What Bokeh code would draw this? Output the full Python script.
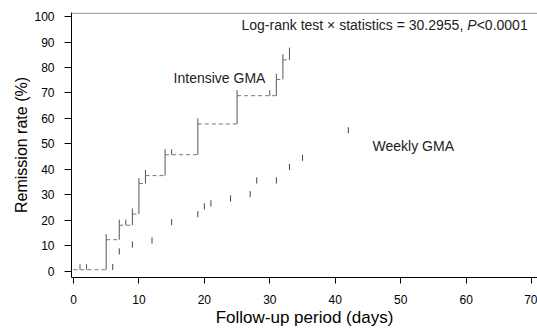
import numpy as np
from bokeh.plotting import figure
from bokeh.models import Range1d, FixedTicker, Span, Label
from bokeh.embed import file_html
from bokeh.resources import INLINE

# ---- data ----
intensive_days = [0, 5, 7, 9, 10, 11, 14, 19, 25, 31, 32, 33]
intensive_rate = [0.5, 12.3, 18.0, 22.4, 34.4, 37.5, 45.7, 57.8, 68.9, 75.3, 83.0, 85.6]
intensive_censor_days = [1, 2, 5, 7, 8, 9, 10, 11, 14, 15, 19, 25, 30, 31, 32, 33]

weekly_days = [6, 7, 9, 12, 15, 19, 20, 21, 24, 27, 28, 31, 33, 35, 42]
weekly_rate = [1.6, 7.7, 10.4, 12.0, 19.2, 22.3, 25.4, 26.6, 28.5, 30.2, 35.6, 35.6, 40.9, 44.5, 55.3]

x_ticks = [0, 10, 20, 30, 40, 50, 60, 70]
y_ticks = [0, 10, 20, 30, 40, 50, 60, 70, 80, 90, 100]

FONT = "Liberation Sans"

p = figure(width=537, height=329, output_backend="svg", toolbar_location=None,
           x_range=Range1d(-0.3, 70.9), y_range=Range1d(-2.55, 101.6),
           min_border_left=71, min_border_right=0, min_border_top=12, min_border_bottom=52)
p.outline_line_color = None
p.grid.visible = False
p.background_fill_color = "white"

# axes
for ax in (p.xaxis, p.yaxis):
    ax.axis_line_color = "black"
    ax.major_tick_line_color = "black"
    ax.minor_tick_line_color = None
    ax.major_tick_in = 0
    ax.major_label_text_font = FONT
    ax.major_label_text_font_size = "12px"
    ax.major_label_text_color = "black"
    ax.axis_label_text_font = FONT
    ax.axis_label_text_font_style = "normal"
    ax.axis_label_text_color = "black"

p.xaxis.ticker = FixedTicker(ticks=x_ticks)
p.yaxis.ticker = FixedTicker(ticks=y_ticks)
p.xaxis.major_tick_out = 6
p.yaxis.major_tick_out = 7
p.xaxis.major_label_standoff = 11
p.yaxis.major_label_standoff = 10
p.xaxis.axis_label = "Follow-up period (days)"
p.yaxis.axis_label = "Remission rate (%)"
p.xaxis.axis_label_text_font_size = "17px"
p.yaxis.axis_label_text_font_size = "16px"
p.xaxis.axis_label_standoff = 1
p.yaxis.axis_label_standoff = 1

# top border line
p.add_layout(Span(location=101.3, dimension="width", line_color="#888888", line_width=1))

# ---- Intensive GMA step curve ----
d = np.array(intensive_days, dtype=float)
r = np.array(intensive_rate, dtype=float)
p.segment(x0=d[:-1], y0=r[:-1], x1=d[1:], y1=r[:-1],
          line_color="#777777", line_width=1, line_dash="4 3")
p.segment(x0=d[1:], y0=r[:-1], x1=d[1:], y1=r[1:],
          line_color="#555555", line_width=1)

c = np.array(intensive_censor_days, dtype=float)
lvl = r[np.searchsorted(d, c, side="right") - 1]
p.segment(x0=c, y0=lvl, x1=c, y1=lvl + 2.2, line_color="#555555", line_width=1)

# ---- Weekly GMA marks ----
wd = np.array(weekly_days, dtype=float)
wr = np.array(weekly_rate, dtype=float)
p.segment(x0=wd, y0=wr - 1.2, x1=wd, y1=wr + 1.2, line_color="#444444", line_width=1)

# ---- annotations ----
p.add_layout(Label(x=15.3, y=75.8, text="Intensive GMA", text_font=FONT,
                   text_font_size="14px", text_color="#222222", text_baseline="alphabetic"))
p.add_layout(Label(x=45.7, y=49.3, text="Weekly GMA", text_font=FONT,
                   text_font_size="14px", text_color="#222222", text_baseline="alphabetic"))

sx, sy = 69.4, 96.8
p.add_layout(Label(x=sx, y=sy, text="<0.0001", text_font=FONT, text_font_size="14px",
                   text_align="right", text_baseline="alphabetic", text_color="#222222"))
p.add_layout(Label(x=sx, y=sy, x_offset=-51, text="P", text_font=FONT, text_font_size="14px",
                   text_font_style="italic", text_align="right", text_baseline="alphabetic",
                   text_color="#222222"))
p.add_layout(Label(x=sx, y=sy, x_offset=-60.5, text="Log-rank test \u00d7 statistics = 30.2955, ",
                   text_font=FONT, text_font_size="14px", text_align="right",
                   text_baseline="alphabetic", text_color="#222222"))

open("out.html", "w").write(file_html(p, INLINE))
